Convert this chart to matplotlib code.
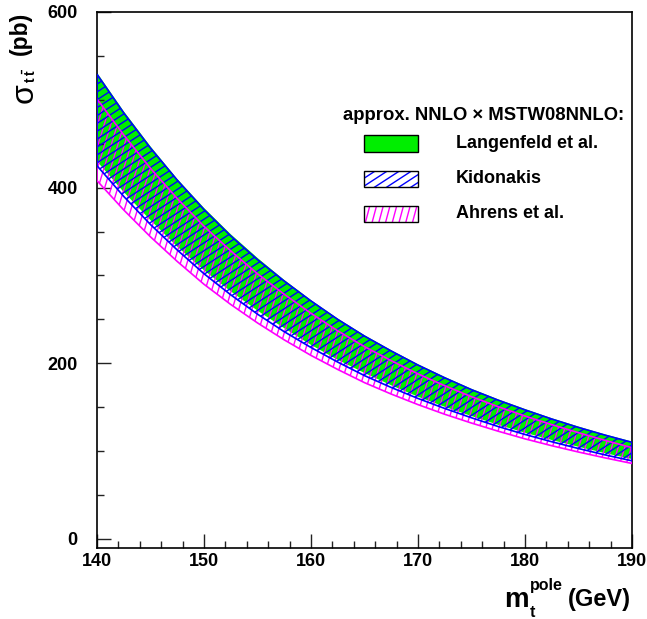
import numpy as np
import matplotlib
matplotlib.use("Agg")
import matplotlib.pyplot as plt
from matplotlib.collections import LineCollection
from matplotlib.patches import Rectangle
from matplotlib.ticker import MultipleLocator

plt.rcParams['font.family'] = ['Liberation Sans', 'DejaVu Sans']
plt.rcParams['mathtext.fontset'] = 'custom'
plt.rcParams['mathtext.rm'] = 'Liberation Sans'
plt.rcParams['mathtext.bf'] = 'Liberation Sans:bold'
plt.rcParams['mathtext.it'] = 'Liberation Sans:italic'

# ---- data ----
mt = [140, 142.5, 145, 147.5, 150, 152.5, 155, 157.5, 160, 162.5, 165,
      167.5, 170, 172.5, 175, 177.5, 180, 182.5, 185, 187.5, 190]
lang_hi = [531, 487, 447, 410, 377, 347, 320, 295, 272, 251, 232,
           215, 199, 184.5, 171, 159, 148, 137.5, 128, 119, 111]
lang_lo = [430, 395, 363, 333, 306, 282, 260, 240, 221, 204, 189,
           175, 162, 150.5, 140, 130, 121, 112.7, 105, 97.7, 91]
kid_hi = [529, 485, 445, 408.5, 375, 345, 318, 293.6, 271, 250, 231,
          214, 198, 183.5, 170, 158, 147, 136.6, 127, 118.2, 110]
kid_lo = [425, 390, 358, 329, 302, 278, 256, 236, 218, 201.4, 186,
          172.5, 160, 148.6, 138, 128, 119, 110.7, 103, 95.7, 89]
ahr_hi = [501, 460, 422, 387.6, 356, 328, 302, 278.6, 257, 237, 219,
          203, 188, 174.5, 162, 150.6, 140, 130.2, 121, 112.2, 104]
ahr_lo = [408, 374.6, 344, 316, 290, 267, 246, 226.7, 209, 193, 178,
          165, 153, 142, 132, 122.7, 114, 106.2, 99, 92.3, 86]

legend_title = "approx. NNLO \u00d7 MSTW08NNLO:"
legend_labels = ["Langenfeld et al.", "Kidonakis", "Ahrens et al."]
xticks = [140, 150, 160, 170, 180, 190]
yticks = [0, 200, 400, 600]

GREEN = '#00ee00'
BLUE = '#0000ff'
MAG = '#ff00ff'

W, H = 647, 619
fig = plt.figure(figsize=(W / 100, H / 100), dpi=100)
ax = fig.add_axes([97 / W, (H - 548) / H, (632 - 97) / W, (548 - 12) / H])
ax.set_xlim(140, 190)
ax.set_ylim(-10.25, 600)


def hatch_lines(angle, spacing, color, lw, zorder, clip_path, clip_trans=None, on_fig=False):
    a = np.deg2rad(angle)
    d = np.array([np.cos(a), np.sin(a)])
    n = np.array([-np.sin(a), np.cos(a)])
    D = np.hypot(W, H)
    cen = np.array([W / 2, H / 2])
    segs = []
    for c in np.arange(-D, D, spacing):
        p0 = cen + c * n
        p1 = p0 - D * d
        p2 = p0 + D * d
        segs.append([(p1[0] / W, p1[1] / H), (p2[0] / W, p2[1] / H)])
    lc = LineCollection(segs, colors=color, linewidths=lw, transform=fig.transFigure,
                        zorder=zorder)
    if on_fig:
        fig.add_artist(lc)
    else:
        ax.add_collection(lc, autolim=False)
    if clip_trans is None:
        lc.set_clip_path(clip_path)
    else:
        lc.set_clip_path(clip_path, clip_trans)
    return lc


HLW = 1.0
# Langenfeld: green fill
ax.fill_between(mt, lang_lo, lang_hi, facecolor=GREEN, edgecolor='none', zorder=1)

# Ahrens: magenta steep hatch
pa = ax.fill_between(mt, ahr_lo, ahr_hi, facecolor='none', edgecolor='none', zorder=2)
hatch_lines(73, 6.3, MAG, HLW, 2, pa.get_paths()[0], ax.transData)

# Kidonakis: blue shallow hatch
pk = ax.fill_between(mt, kid_lo, kid_hi, facecolor='none', edgecolor='none', zorder=3)
hatch_lines(33, 6.6, BLUE, HLW, 3, pk.get_paths()[0], ax.transData)

# outlines
ax.fill_between(mt, ahr_lo, ahr_hi, facecolor='none', edgecolor=MAG, linewidth=1.2, zorder=4)
ax.fill_between(mt, kid_lo, kid_hi, facecolor='none', edgecolor=BLUE, linewidth=1.2, zorder=5)

# axes styling
ax.xaxis.set_minor_locator(MultipleLocator(2))
ax.yaxis.set_minor_locator(MultipleLocator(50))
ax.set_xticks(xticks)
ax.set_yticks(yticks)
ax.set_xticklabels([str(v) for v in xticks])
ax.set_yticklabels([str(v) for v in yticks])
ax.tick_params(which='both', direction='in', top=False, right=False, width=1.0, color='#222222')
ax.tick_params(which='major', length=10)
ax.tick_params(which='minor', length=5)
ax.tick_params(axis='x', which='major', pad=3.5, labelsize=13)
ax.tick_params(axis='y', which='major', pad=14, labelsize=13)
for lab in ax.get_xticklabels() + ax.get_yticklabels():
    lab.set_fontweight('bold')
for s in ax.spines.values():
    s.set_linewidth(1.2)
    s.set_color('black')


def fx(px):
    return px / W


def fy(py):
    return 1 - py / H


# x label pieces
fig.text(fx(504), fy(607), "m", fontsize=20, fontweight='bold', ha='left', va='baseline')
fig.text(fx(530), fy(590), "pole", fontsize=11.5, fontweight='bold', ha='left', va='baseline')
fig.text(fx(530), fy(617), "t", fontsize=11.5, fontweight='bold', ha='left', va='baseline')
fig.text(fx(568), fy(606), "(GeV)", fontsize=17, fontweight='bold', ha='left', va='baseline')

# y label pieces (rotated)
fig.text(fx(20.5), fy(33.5), "(pb)", fontsize=16.5, fontweight='bold', rotation=90,
         ha='center', va='center')
fig.text(fx(24.5), fy(93.5), "\u03c3", fontsize=23, rotation=90, ha='center', va='center')
fig.text(fx(30), fy(75), r"$\mathbf{t}\;\mathbf{\bar{t}}$", fontsize=10, rotation=90,
         ha='center', va='center')

# legend
fig.text(fx(343), fy(115), legend_title, fontsize=13.3, fontweight='bold', ha='left', va='center')
box_y = [(135, 152), (171, 187), (206, 222)]
label_y = [143.5, 178.5, 213.5]
for i, lab in enumerate(legend_labels):
    y0, y1 = box_y[i]
    xy = (fx(364), fy(y1))
    bw = fx(418) - fx(364)
    bh = fy(y0) - fy(y1)
    if i == 0:
        fig.add_artist(Rectangle(xy, bw, bh, facecolor=GREEN, edgecolor='black',
                                 linewidth=1.0, transform=fig.transFigure))
    else:
        fig.add_artist(Rectangle(xy, bw, bh, facecolor='white', edgecolor='none',
                                 zorder=3, transform=fig.transFigure))
        clip = Rectangle(xy, bw, bh, transform=fig.transFigure, facecolor='none', edgecolor='none')
        if i == 1:
            hatch_lines(33, 6.6, BLUE, HLW, 4, clip, on_fig=True)
        else:
            hatch_lines(75, 6.5, MAG, HLW, 4, clip, on_fig=True)
        fig.add_artist(Rectangle(xy, bw, bh, facecolor='none', edgecolor='black',
                                 linewidth=1.0, zorder=5, transform=fig.transFigure))
    fig.text(fx(456), fy(label_y[i]), lab, fontsize=13, fontweight='bold', ha='left', va='center')

fig.savefig("out.png", dpi=100)
